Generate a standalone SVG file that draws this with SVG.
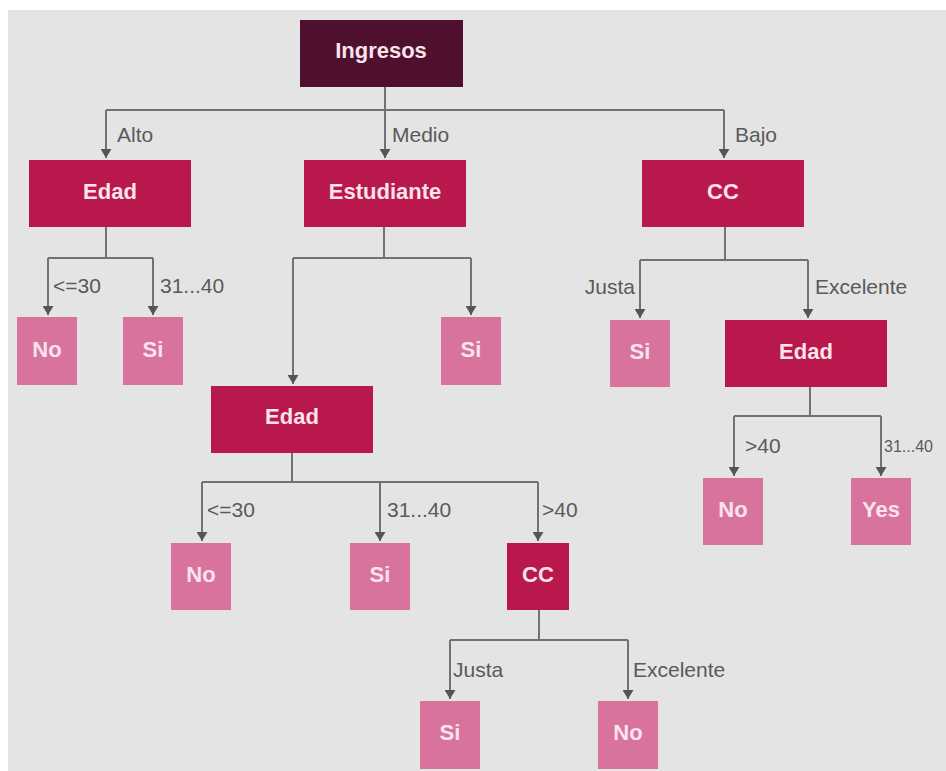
<svg xmlns="http://www.w3.org/2000/svg" width="946" height="771" viewBox="0 0 946 771">
<defs>
<marker id="arr" markerWidth="9" markerHeight="11" refX="9" refY="5.5" orient="auto" markerUnits="userSpaceOnUse" viewBox="0 0 9 11">
<path d="M0,0 L9,5.5 L0,11 Z" fill="#555"/>
</marker>
<style>
.root{fill:#4f0f2f}
.dec{fill:#b8184b}
.leaf{fill:#d8739e}
.nt{font-family:"Liberation Sans",Arial,sans-serif;font-weight:bold;font-size:22px;fill:#fbe3ec;text-anchor:middle;dominant-baseline:central}
.lt{font-family:"Liberation Sans",Arial,sans-serif;font-size:21px;fill:#5a5a5a}
.ln{fill:none;stroke:#727272;stroke-width:2}
.ar{fill:none;stroke:#727272;stroke-width:2;marker-end:url(#arr)}
</style>
</defs>
<rect width="946" height="771" fill="#ffffff"/>
<rect x="8" y="10" width="938" height="761" fill="#e4e4e4"/>

<g id="connectors">
<path class="ln" d="M385,87 V110 M106,110 H724"/>
<path class="ar" d="M106,110 V158"/>
<path class="ar" d="M385,110 V158"/>
<path class="ar" d="M724,110 V158"/>
<text class="lt" x="117" y="142">Alto</text>
<text class="lt" x="392" y="142">Medio</text>
<text class="lt" x="735" y="142">Bajo</text>

<path class="ln" d="M106,227 V258 M48,258 H153"/>
<path class="ar" d="M48,258 V315"/>
<path class="ar" d="M153,258 V315"/>
<text class="lt" x="53" y="293">&lt;=30</text>
<text class="lt" x="160" y="293">31...40</text>

<path class="ln" d="M384,227 V258 M293,258 H471"/>
<path class="ar" d="M293,258 V384"/>
<path class="ar" d="M471,258 V315"/>

<path class="ln" d="M292,453 V482 M202,482 H538"/>
<path class="ar" d="M202,482 V541"/>
<path class="ar" d="M380,482 V541"/>
<path class="ar" d="M538,482 V541"/>
<text class="lt" x="207" y="517">&lt;=30</text>
<text class="lt" x="387" y="517">31...40</text>
<text class="lt" x="542" y="517">&gt;40</text>

<path class="ln" d="M539,610 V640 M450,640 H628"/>
<path class="ar" d="M450,640 V699"/>
<path class="ar" d="M628,640 V699"/>
<text class="lt" x="453" y="677">Justa</text>
<text class="lt" x="633" y="677">Excelente</text>

<path class="ln" d="M725,227 V260 M640,260 H808"/>
<path class="ar" d="M640,260 V318"/>
<path class="ar" d="M808,260 V318"/>
<text class="lt" x="635" y="294" text-anchor="end">Justa</text>
<text class="lt" x="815" y="294">Excelente</text>

<path class="ln" d="M810,387 V416 M734,416 H881"/>
<path class="ar" d="M734,416 V476"/>
<path class="ar" d="M881,416 V476"/>
<text class="lt" x="745" y="453">&gt;40</text>
<text class="lt" x="884" y="452" style="font-size:16px">31...40</text>
</g>

<g id="n_ingresos"><rect class="root" x="300" y="20" width="163" height="67"/><text class="nt" x="381" y="50">Ingresos</text></g>
<g id="n_edad1"><rect class="dec" x="29" y="160" width="162" height="67"/><text class="nt" x="110" y="191">Edad</text></g>
<g id="n_estudiante"><rect class="dec" x="304" y="160" width="162" height="67"/><text class="nt" x="385" y="191">Estudiante</text></g>
<g id="n_cc1"><rect class="dec" x="642" y="160" width="162" height="67"/><text class="nt" x="723" y="191">CC</text></g>
<g id="n_no1"><rect class="leaf" x="17" y="317" width="60" height="68"/><text class="nt" x="47" y="349">No</text></g>
<g id="n_si1"><rect class="leaf" x="123" y="317" width="60" height="68"/><text class="nt" x="153" y="349">Si</text></g>
<g id="n_si2"><rect class="leaf" x="441" y="317" width="60" height="68"/><text class="nt" x="471" y="349">Si</text></g>
<g id="n_edad2"><rect class="dec" x="211" y="386" width="162" height="67"/><text class="nt" x="292" y="416">Edad</text></g>
<g id="n_no2"><rect class="leaf" x="171" y="543" width="60" height="67"/><text class="nt" x="201" y="574">No</text></g>
<g id="n_si3"><rect class="leaf" x="350" y="543" width="60" height="67"/><text class="nt" x="380" y="574">Si</text></g>
<g id="n_cc2"><rect class="dec" x="507" y="543" width="62" height="67"/><text class="nt" x="538" y="574">CC</text></g>
<g id="n_si4"><rect class="leaf" x="420" y="701" width="60" height="68"/><text class="nt" x="450" y="732">Si</text></g>
<g id="n_no3"><rect class="leaf" x="598" y="701" width="60" height="68"/><text class="nt" x="628" y="732">No</text></g>
<g id="n_si5"><rect class="leaf" x="610" y="320" width="60" height="67"/><text class="nt" x="640" y="351">Si</text></g>
<g id="n_edad3"><rect class="dec" x="725" y="320" width="162" height="67"/><text class="nt" x="806" y="351">Edad</text></g>
<g id="n_no4"><rect class="leaf" x="703" y="478" width="60" height="67"/><text class="nt" x="733" y="509">No</text></g>
<g id="n_yes"><rect class="leaf" x="851" y="478" width="60" height="67"/><text class="nt" x="881" y="509">Yes</text></g>
</svg>
